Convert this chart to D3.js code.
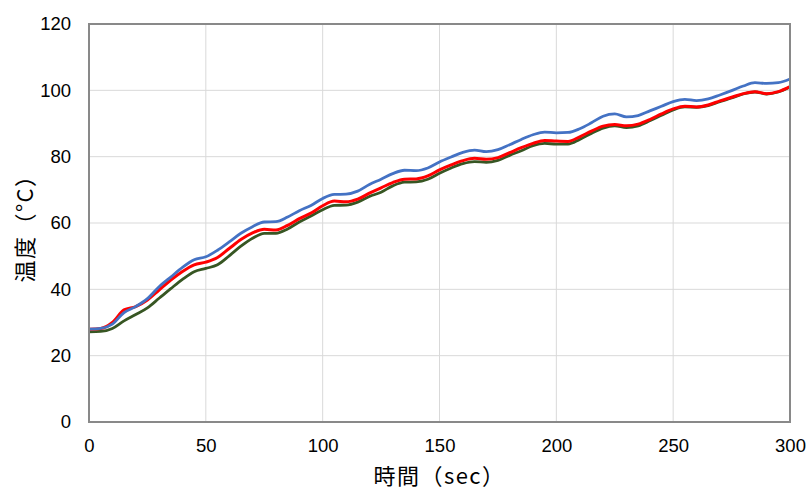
<!DOCTYPE html>
<html>
<head>
<meta charset="utf-8">
<script src="https://cdn.jsdelivr.net/npm/d3@7"></script>
<style>
  body { margin: 0; background: #fff; }
  .tick text { font-family: "Liberation Sans", Arial, sans-serif; font-size: 18.5px; fill: #000; }
  .title { font-family: "Noto Sans CJK JP", sans-serif; font-size: 22px; letter-spacing: 1.5px; fill: #000; }
</style>
</head>
<body>
<div id="chart"></div>
<script>
// sampled every 5 sec
const timeSec = d3.range(0, 301, 5);

const blueTemp = [28.0, 28.2, 29.5, 33.0, 34.8, 37.2, 40.8, 43.7, 46.6, 48.9,
  49.8, 51.8, 54.3, 56.9, 58.9, 60.3, 60.4, 61.8, 63.7, 65.3,
  67.4, 68.6, 68.7, 69.6, 71.6, 73.2, 74.9, 75.9, 75.8, 76.6,
  78.4, 79.9, 81.3, 82.0, 81.5, 82.1, 83.6, 85.2, 86.6, 87.4,
  87.2, 87.3, 88.4, 90.2, 92.2, 92.9, 92.0, 92.4, 93.8, 95.2,
  96.6, 97.3, 96.9, 97.4, 98.6, 99.9, 101.3, 102.3, 102.1, 102.3, 103.4];

const redTemp = [28.0, 28.2, 30.0, 33.8, 34.8, 36.8, 39.8, 42.8, 45.4, 47.4,
  48.2, 49.6, 52.3, 55.0, 57.0, 58.1, 57.9, 59.3, 61.3, 63.0,
  65.2, 66.6, 66.4, 67.2, 69.0, 70.6, 72.2, 73.2, 73.3, 74.2,
  76.0, 77.5, 78.8, 79.5, 79.2, 79.7, 81.2, 82.7, 84.0, 84.9,
  84.7, 84.6, 86.0, 87.7, 89.2, 89.7, 89.3, 89.8, 91.2, 92.9,
  94.4, 95.2, 95.0, 95.6, 96.8, 97.9, 99.0, 99.6, 99.0, 99.6, 101.1];

const greenTemp = [27.2, 27.3, 28.2, 30.5, 32.4, 34.4, 37.3, 40.2, 43.0, 45.3,
  46.3, 47.4, 50.1, 53.0, 55.4, 56.9, 56.9, 58.2, 60.3, 62.1,
  64.0, 65.3, 65.4, 66.3, 68.0, 69.3, 71.2, 72.3, 72.4, 73.2,
  75.0, 76.6, 77.9, 78.5, 78.3, 78.9, 80.4, 81.8, 83.3, 84.0,
  83.8, 83.8, 85.2, 87.0, 88.6, 89.3, 88.8, 89.3, 90.8, 92.5,
  94.1, 95.0, 94.9, 95.4, 96.6, 97.7, 98.9, 99.5, 98.9, 99.5, 101.0];

const xTicks = [0, 50, 100, 150, 200, 250, 300];
const yTicks = [0, 20, 40, 60, 80, 100, 120];

const width = 808, height = 489;
const margin = {top: 24, right: 18, bottom: 67, left: 89};

const svg = d3.select('#chart').append('svg')
  .attr('width', width)
  .attr('height', height);

const x = d3.scaleLinear().domain([0, 300]).range([margin.left, width - margin.right]);
const y = d3.scaleLinear().domain([0, 120]).range([height - margin.bottom, margin.top]);

// gridlines
svg.append('g')
  .selectAll('line.h')
  .data(yTicks)
  .enter().append('line')
    .attr('x1', x(0)).attr('x2', x(300))
    .attr('y1', d => y(d)).attr('y2', d => y(d))
    .style('stroke', '#d9d9d9').style('stroke-width', 1);

svg.append('g')
  .selectAll('line.v')
  .data(xTicks)
  .enter().append('line')
    .attr('y1', y(0)).attr('y2', y(120))
    .attr('x1', d => x(d)).attr('x2', d => x(d))
    .style('stroke', '#d9d9d9').style('stroke-width', 1);

// axes (labels only)
svg.append('g')
  .attr('transform', `translate(0,${y(0)})`)
  .call(d3.axisBottom(x).tickValues(xTicks).tickSize(0).tickPadding(17))
  .call(g => g.select('.domain').remove());

svg.append('g')
  .attr('transform', `translate(${x(0)},0)`)
  .call(d3.axisLeft(y).tickValues(yTicks).tickSize(0).tickPadding(18))
  .call(g => g.select('.domain').remove());

// series
const series = [
  {values: greenTemp, color: '#375623', width: 2.8},
  {values: redTemp, color: '#ff0000', width: 3},
  {values: blueTemp, color: '#4472c4', width: 2.8}
];

const line = d3.line()
  .x((d, i) => x(timeSec[i]))
  .y(d => y(d))
  .curve(d3.curveMonotoneX);

svg.append('g')
  .selectAll('path')
  .data(series)
  .enter().append('path')
    .attr('d', d => line(d.values))
    .style('fill', 'none')
    .style('stroke', d => d.color)
    .style('stroke-width', d => d.width)
    .style('stroke-linejoin', 'round');

// plot frame
svg.append('rect')
  .attr('x', x(0)).attr('y', y(120))
  .attr('width', x(300) - x(0))
  .attr('height', y(0) - y(120))
  .style('fill', 'none')
  .style('stroke', '#898989')
  .style('stroke-width', 2);

// titles
svg.append('text')
  .attr('class', 'title')
  .attr('x', (x(0) + x(300)) / 2)
  .attr('y', 484)
  .attr('text-anchor', 'middle')
  .text('時間（sec）');

svg.append('text')
  .attr('class', 'title')
  .attr('transform', `translate(33,${(y(0) + y(120)) / 2}) rotate(-90)`)
  .attr('text-anchor', 'middle')
  .text('温度（°C）');
</script>
</body>
</html>
